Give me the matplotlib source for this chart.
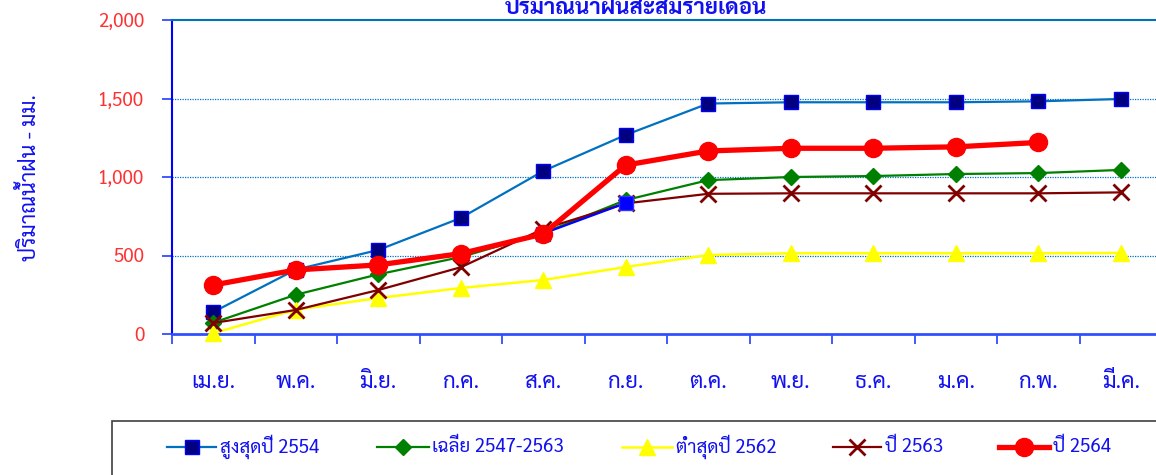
import matplotlib
matplotlib.use("Agg")
import matplotlib.pyplot as plt
from matplotlib.lines import Line2D
from matplotlib.patches import Rectangle
import numpy as np

plt.rcParams['font.family'] = ['Sarabun', 'Niramit', 'DejaVu Sans']

months = ["เม.ย.", "พ.ค.", "มิ.ย.", "ก.ค.", "ส.ค.", "ก.ย.", "ต.ค.", "พ.ย.", "ธ.ค.", "ม.ค.", "ก.พ.", "มี.ค."]
max_2554 = [140, 410, 535, 739, 1038, 1268, 1468, 1476, 1476, 1476, 1482, 1497]
avg_2547_2563 = [72, 250, 380, 490, 643, 853, 980, 1000, 1006, 1019, 1025, 1045]
min_2562 = [5, 155, 229, 293, 344, 427, 503, 514, 514, 514, 514, 516]
y2563 = [70, 153, 280, 425, 669, 832, 893, 896, 896, 896, 896, 902]
y2564 = [312, 408, 440, 512, 637, 1076, 1166, 1183, 1183, 1192, 1220, np.nan]
y2564_b = [np.nan, np.nan, np.nan, np.nan, 640, 834, np.nan, np.nan, np.nan, np.nan, np.nan, np.nan]
labels = ["สูงสุดปี 2554", "เฉลี่ย 2547-2563", "ต่ำสุดปี 2562", "ปี 2563", "ปี 2564"]
yticks = [0, 500, 1000, 1500, 2000]

W, H = 1156, 475
fig = plt.figure(figsize=(W / 100, H / 100), dpi=100)
ax = fig.add_axes([172 / W, 1 - 334 / H, (1162 - 172) / W, (334 - 20) / H])

styles = [
    dict(color="#0070C0", lw=1.6, marker="s", ms=10, mfc="#000080", mec="#0000FF", mew=1.0),
    dict(color="#008000", lw=1.6, marker="D", ms=8, mfc="#008000", mec="#008000"),
    dict(color="#FFFF00", lw=1.8, marker="^", ms=12, mfc="#FFFF00", mec="#FFFF00"),
    dict(color="#800000", lw=1.6, marker="x", ms=11, mec="#800000", mew=2.0),
    dict(color="#FF0000", lw=3.8, marker="o", ms=13, mfc="#FF0000", mec="#FF0000"),
]
extra_style = dict(color="#0000FF", lw=1.6, marker="s", ms=10, mfc="#0000FF", mec="#3030FF")

x = np.arange(len(months))
series = [max_2554, avg_2547_2563, min_2562, y2563]
for i, s in enumerate(series):
    ax.plot(x, s, zorder=3 + i, clip_on=False, **styles[i])
ax.plot(x, y2564_b, zorder=8, clip_on=False, **extra_style)
ax.plot(x, y2564, zorder=9, clip_on=False, **styles[4])

ax.set_xlim(-0.5, 11.5)
ax.set_ylim(0, 2000)
ax.set_xticks(x)
ax.set_xticklabels(months)
ax.set_xticks(np.arange(-0.5, 12, 1), minor=True)
ax.tick_params(axis="x", which="major", length=0, pad=27, labelsize=16, labelcolor="#1010F0")
ax.tick_params(axis="x", which="minor", length=7, width=1.2, color="#2040FF", direction="out")
ax.set_yticks(yticks)
ax.set_yticklabels([f"{v:,}" for v in yticks])
ax.tick_params(axis="y", length=7, width=1.2, color="#2040FF", direction="out", pad=13,
               labelsize=13.5, labelcolor="#FF3030")
for v in yticks[1:-1]:
    ax.axhline(v, color="#0070C0", lw=0.9, ls=(0, (1, 1)), zorder=1)

ax.spines["right"].set_visible(False)
ax.spines["top"].set_color("#0070C0")
ax.spines["top"].set_linewidth(1.5)
ax.spines["left"].set_color("#0000FF")
ax.spines["left"].set_linewidth(1.5)
ax.spines["bottom"].set_color("#3050FF")
ax.spines["bottom"].set_linewidth(2.0)

fig.text(636 / W, 1 - 14 / H, "ปริมาณน้ำฝนสะสมรายเดือน", ha="center", va="baseline",
         fontsize=16, fontweight="bold", color="#1010F0")
fig.text(30 / W, 1 - 178 / H, "ปริมาณน้ำฝน - มม.", rotation=90, ha="center", va="center",
         fontsize=15.5, color="#1010F0")

# legend box
fig.patches.append(Rectangle((112 / W, -0.05), 1.0, (475 - 421) / H + 0.05,
                             transform=fig.transFigure, fill=False, edgecolor="#404040", lw=1.2))
handle_x = [(167, 216), (377, 429), (622, 672), (833, 881), (999, 1049)]
text_x = [220, 432, 676, 885, 1053]
ly = 1 - 447 / H
for i in range(5):
    st = dict(styles[i])
    x0, x1 = handle_x[i]
    fig.lines.append(Line2D([x0 / W, (x0 + x1) / 2 / W, x1 / W], [ly, ly, ly], transform=fig.transFigure,
                            markevery=[1], **st))
    fig.text(text_x[i] / W, ly, labels[i], ha="left", va="center", fontsize=13.5, color="#1010F0")

fig.savefig("out.png", dpi=100)
